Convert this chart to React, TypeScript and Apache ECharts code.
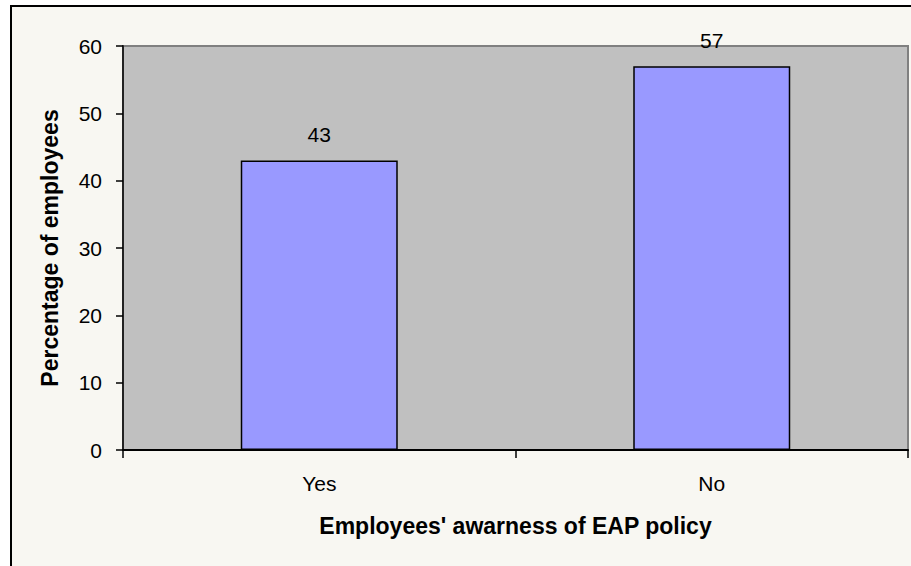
import React, { useEffect, useRef } from "react";
import * as echarts from "echarts";

const categories = ["Yes", "No"];
const values = [43, 57];
const yTicks = { min: 0, max: 60, interval: 10 };
const xTitle = "Employees' awarness of EAP policy";
const yTitle = "Percentage of employees";

export default function App() {
  const ref = useRef<HTMLDivElement>(null);
  useEffect(() => {
    if (!ref.current) return;
    const chart = echarts.init(ref.current, undefined, { renderer: "svg" });
    const font = "Arial, 'Liberation Sans', sans-serif";
    chart.setOption({
      animation: false,
      backgroundColor: "transparent",
      textStyle: { fontFamily: font },
      graphic: [
        {
          type: "rect",
          z: -10,
          shape: { x: 11, y: 6, width: 1000, height: 1000 },
          style: { fill: "#f8f7f2", stroke: "#000", lineWidth: 2 },
        },
      ],
      grid: {
        left: 123,
        right: 3,
        top: 46,
        bottom: 116,
        show: true,
        backgroundColor: "#c0c0c0",
        borderColor: "#808080",
        borderWidth: 2,
      },
      xAxis: {
        type: "category",
        data: categories,
        boundaryGap: true,
        axisLine: { show: true, lineStyle: { color: "#000", width: 2 } },
        axisTick: { show: true, length: 8, lineStyle: { color: "#000", width: 1.5 } },
        axisLabel: { color: "#000", fontSize: 21, margin: 23, fontFamily: font },
        splitLine: { show: false },
        name: xTitle,
        nameLocation: "middle",
        nameGap: 64,
        nameTextStyle: { color: "#000", fontSize: 23, fontWeight: "bold", fontFamily: font },
      },
      yAxis: {
        type: "value",
        min: yTicks.min,
        max: yTicks.max,
        interval: yTicks.interval,
        axisLine: { show: true, lineStyle: { color: "#222", width: 2 } },
        axisTick: { show: true, length: 7, lineStyle: { color: "#000", width: 1.5 } },
        axisLabel: { color: "#000", fontSize: 21, margin: 21, fontFamily: font },
        splitLine: { show: false },
        name: yTitle,
        nameLocation: "middle",
        nameGap: 62,
        nameRotate: 90,
        nameTextStyle: { color: "#000", fontSize: 23, fontWeight: "bold", fontFamily: font },
      },
      series: [
        {
          type: "bar",
          data: values,
          barWidth: "40%",
          itemStyle: { color: "#9999ff", borderColor: "#000", borderWidth: 1.5 },
          label: {
            show: true,
            position: "top",
            distance: 15,
            color: "#000",
            fontSize: 21,
            fontFamily: font,
          },
        },
      ],
    });
    return () => chart.dispose();
  }, []);
  return (
    <div
      style={{
        position: "absolute",
        left: 0,
        top: 0,
        width: 911,
        height: 566,
        background: "#fff",
        overflow: "hidden",
      }}
    >
      <div ref={ref} style={{ width: 911, height: 566 }} />
    </div>
  );
}
